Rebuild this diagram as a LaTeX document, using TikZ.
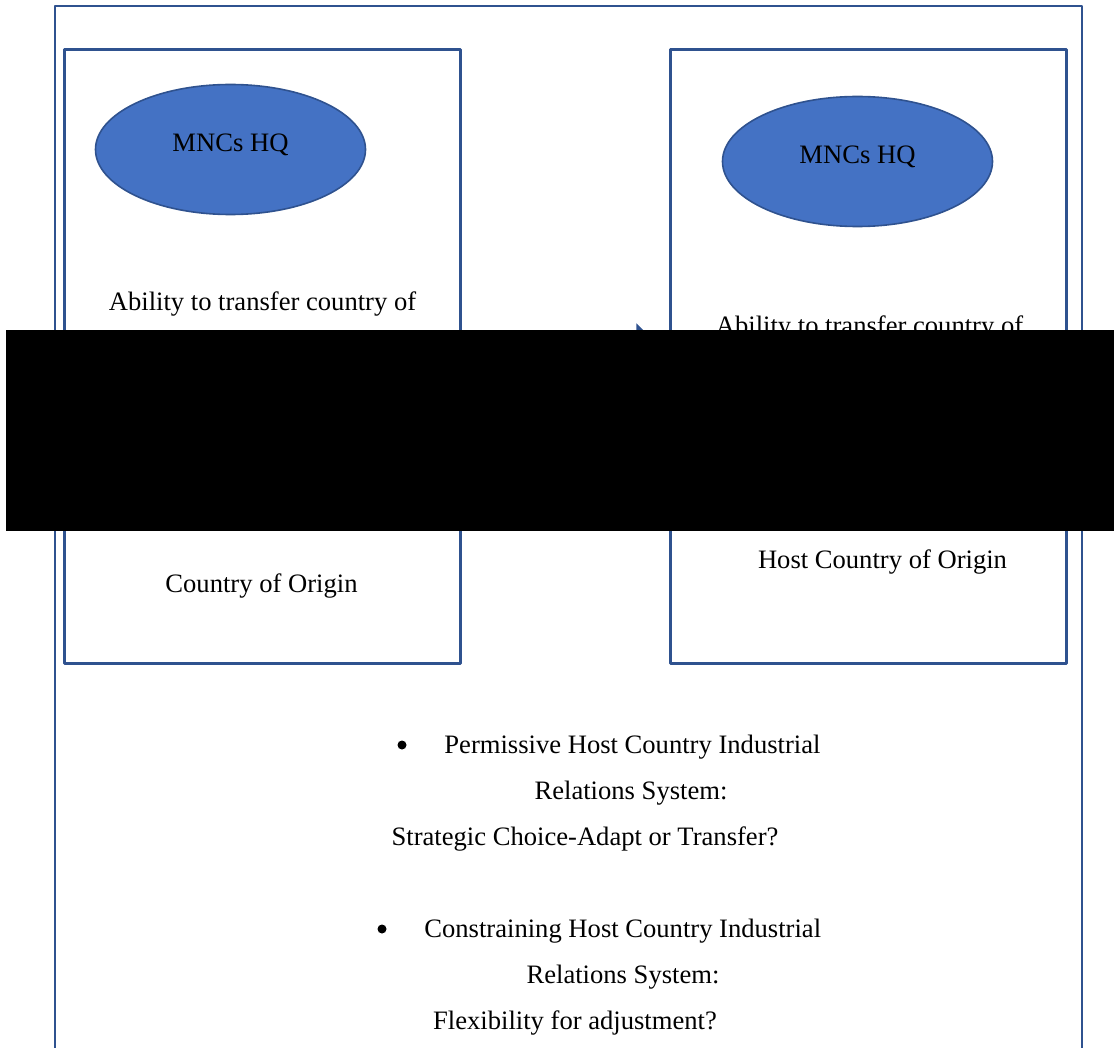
\documentclass[tikz,border=0pt]{standalone}
\usepackage{fontspec}
\setmainfont{Liberation Serif}
\usetikzlibrary{shapes.geometric,arrows.meta}
\definecolor{hqblue}{HTML}{4472C4}
\definecolor{frameblue}{HTML}{2F528F}
\begin{document}
\begin{tikzpicture}[x=0.5pt, y=-0.5pt, line cap=round, line join=round, font=\fontsize{13.3}{16}\selectfont]
	\tikzset{
		panel/.style={draw=frameblue, line width=1.15pt, line cap=rect, minimum width=198pt, minimum height=307pt, inner sep=0pt},
		hq/.style={ellipse, draw=frameblue, fill=hqblue, line width=0.8pt, minimum width=135pt, minimum height=65pt, inner sep=0pt},
		txt/.style={anchor=base, inner sep=0pt},
		dot/.style={circle, fill=black, inner sep=0pt, minimum size=4.5pt},
		link/.style={draw=frameblue, fill=hqblue, line width=1pt, -{Triangle[length=16.5pt, width=33pt]}}
	}
	\useasboundingbox (0,0) rectangle (1114,1048);
	
	% KHUNG NGOÀI
	\draw[frameblue, line width=1.15pt, line cap=butt] (55,1050) -- (55,6) -- (1082,6) -- (1082,1050);
	
	% HAI Ô: NƯỚC GỐC VÀ NƯỚC SỞ TẠI
	\node[panel] (origin) at (262.5,356.5) {};
	\node[panel] (host) at (868.5,356.5) {};
	
	\node[hq] (hqL) at (230.5,149.5) {};
	\node[hq] (hqR) at (857.5,161.5) {};
	\node[txt] (hqtextL) at (230.5,152) {MNCs HQ};
	\node[txt] (hqtextR) at (857.5,164) {MNCs HQ};
	
	\node[txt] (abilityL) at (262.5,311) {Ability to transfer country of};
	\node[txt] (abilityR) at (869.5,335) {Ability to transfer country of};
	\node[txt] (countryL) at (261.5,592) {Country of Origin};
	\node[txt] (countryR) at (882.5,568) {Host Country of Origin};
	
	% MŨI TÊN NỐI
	\draw[link] (origin.east) -- (host.west);
	
	% CÁC Ý BÊN DƯỚI
	\node[dot] (dot1) at (402,745) {};
	\node[txt, anchor=base west] (perm) at (444,753) {Permissive Host Country Industrial};
	\node[txt] (rel1) at (631,799) {Relations System:};
	\node[txt] (choice) at (585,845) {Strategic Choice-Adapt or Transfer?};
	
	\node[dot] (dot2) at (382,929) {};
	\node[txt, anchor=base west] (cons) at (424,937) {Constraining Host Country Industrial};
	\node[txt] (rel2) at (623,983) {Relations System:};
	\node[txt] (flex) at (575,1029) {Flexibility for adjustment?};
	
	% DẢI CHE
	\fill[black] (6,330) rectangle (1114,531);
\end{tikzpicture}
\end{document}
